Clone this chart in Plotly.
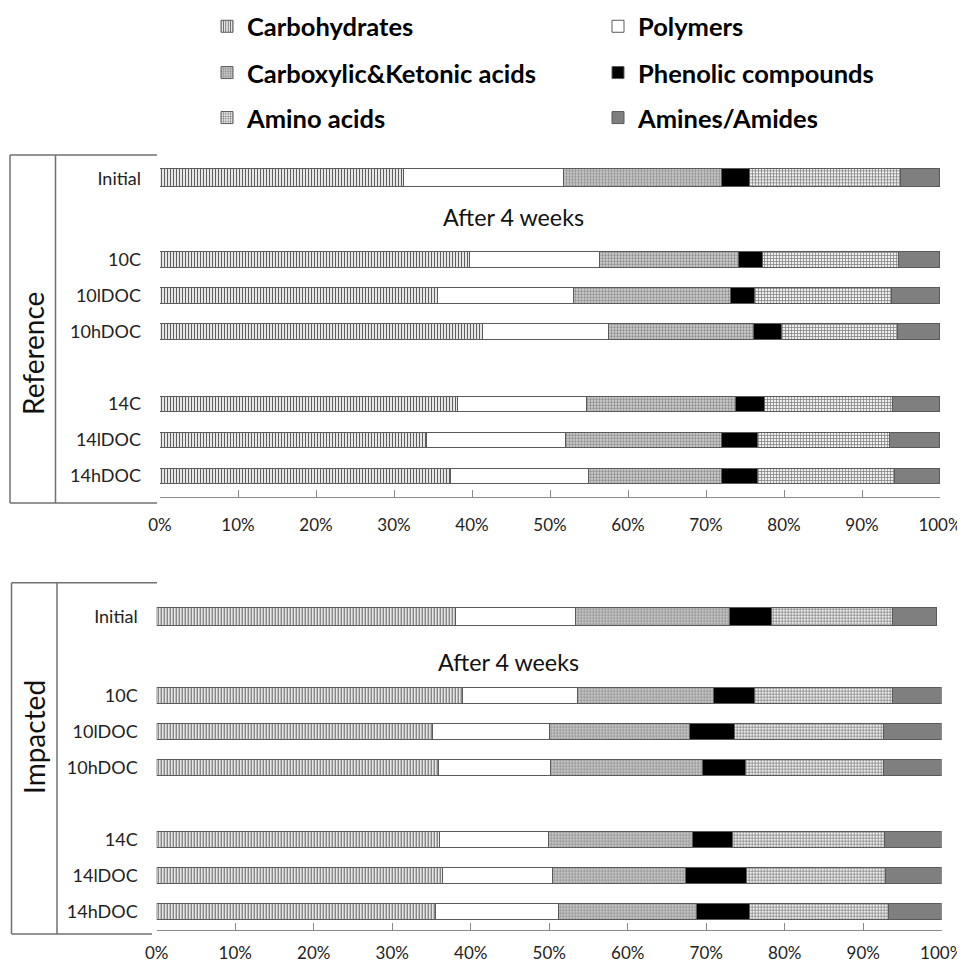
import plotly.graph_objects as go

# ---------------- data ----------------
components = ["Carbohydrates", "Polymers", "Carboxylic&Ketonic acids",
              "Phenolic compounds", "Amino acids", "Amines/Amides"]
treatments = ["10C", "10lDOC", "10hDOC", "14C", "14lDOC", "14hDOC"]
axis_order = ["10C", "10lDOC", "10hDOC", " ", "14C", "14lDOC", "14hDOC"]
initial_label = ["Initial"]
x_ticks = [0, 10, 20, 30, 40, 50, 60, 70, 80, 90, 100]
x_tick_labels = ["0%", "10%", "20%", "30%", "40%", "50%", "60%", "70%", "80%", "90%", "100%"]

# Reference soil (percent of total), order of components as above
ref_initial = [31.3, 20.5, 20.2, 3.6, 19.4, 5.0]
ref_carbohydrates = [39.7, 35.6, 41.4, 38.2, 34.2, 37.3]
ref_polymers = [16.7, 17.5, 16.1, 16.6, 17.9, 17.7]
ref_carboxylic = [17.8, 20.1, 18.6, 19.0, 19.9, 17.1]
ref_phenolic = [3.1, 3.1, 3.6, 3.8, 4.7, 4.6]
ref_amino = [17.4, 17.6, 14.9, 16.4, 16.9, 17.5]
ref_amines = [5.3, 6.1, 5.4, 6.0, 6.4, 5.8]

# Impacted soil
imp_initial = [38.1, 15.3, 19.6, 5.4, 15.4, 5.6]
imp_carbohydrates = [39.0, 35.2, 35.9, 36.0, 36.4, 35.6]
imp_polymers = [14.6, 14.9, 14.3, 13.9, 14.0, 15.6]
imp_carboxylic = [17.4, 17.8, 19.3, 18.4, 17.0, 17.6]
imp_phenolic = [5.2, 5.7, 5.5, 5.1, 7.7, 6.8]
imp_amino = [17.6, 19.0, 17.6, 19.4, 17.8, 17.6]
imp_amines = [6.2, 7.4, 7.4, 7.2, 7.1, 6.8]

ref_after = [ref_carbohydrates, ref_polymers, ref_carboxylic,
             ref_phenolic, ref_amino, ref_amines]
imp_after = [imp_carbohydrates, imp_polymers, imp_carboxylic,
             imp_phenolic, imp_amino, imp_amines]

# ---------------- styles ----------------
FONT = "Lato"
PAGE_OFFSET = 8            # default body margin of the html page
W, H = 965 - PAGE_OFFSET, 963 - PAGE_OFFSET
LINE = "#5a5a5a"

styles = [
    dict(color="white", pattern=dict(shape="|", fgcolor="#606060", bgcolor="#e6e6e6", size=3, solidity=0.35)),
    dict(color="white"),
    dict(color="#c4c4c4", pattern=dict(shape=".", fgcolor="#8c8c8c", bgcolor="#cfcfcf", size=3, solidity=0.45)),
    dict(color="black"),
    dict(color="white", pattern=dict(shape="+", fgcolor="#7a7a7a", bgcolor="#eeeeee", size=3, solidity=0.4)),
    dict(color="#7f7f7f"),
]
legend_ids = ["legend", "legend", "legend2", "legend2", "legend3", "legend3"]


def px_x(p):
    return (p - PAGE_OFFSET) / W


def px_y(p):
    return 1 - (p - PAGE_OFFSET) / H


fig = go.Figure()

panels = [
    (ref_initial, ref_after, ("x", "y"), ("x2", "y2"), True),
    (imp_initial, imp_after, ("x3", "y3"), ("x4", "y4"), False),
]

for init_vals, after_vals, (xa, ya), (xb, yb), show in panels:
    for i, comp in enumerate(components):
        st = styles[i]
        marker = dict(color=st["color"], line=dict(color=LINE, width=1))
        if "pattern" in st:
            marker["pattern"] = dict(fillmode="replace", **st["pattern"])
        fig.add_trace(go.Bar(
            x=after_vals[i], y=treatments, orientation="h", name=comp,
            marker=marker, width=0.42, xaxis=xa, yaxis=ya,
            showlegend=show, legend=legend_ids[i],
            hovertemplate="%{y}: %{x}%<extra>" + comp + "</extra>"))
        fig.add_trace(go.Bar(
            x=[init_vals[i]], y=initial_label, orientation="h", name=comp,
            marker=marker, width=0.5, xaxis=xb, yaxis=yb, showlegend=False,
            hovertemplate="Initial: %{x}%<extra>" + comp + "</extra>"))

tickfont = dict(family=FONT, size=17, color="#222")
catfont = dict(family=FONT, size=18, color="#222")

common_x = dict(range=[0, 100], tickmode="array", tickvals=x_ticks, ticktext=x_tick_labels,
                showgrid=False, zeroline=False, showline=True, linecolor="#8a8a8a",
                linewidth=1.2, ticks="inside", ticklen=7, tickcolor="#8a8a8a", tickwidth=1.2,
                tickfont=tickfont, automargin=False, fixedrange=True)
hidden_x = dict(range=[0, 100], visible=False, automargin=False, fixedrange=True)
common_y = dict(type="category", categoryorder="array", showgrid=False,
                zeroline=False, showline=False, ticks="", tickfont=catfont,
                ticklabelstandoff=18, automargin=False, fixedrange=True)

top_dom_x = [px_x(160), px_x(940)]
bot_dom_x = [px_x(156.7), px_x(941.7)]

fig.update_layout(
    template="none",
    width=W, height=H, autosize=False,
    margin=dict(l=0, r=0, t=0, b=0, pad=0, autoexpand=False),
    paper_bgcolor="white", plot_bgcolor="white",
    barmode="stack", bargap=0,
    font=dict(family=FONT, color="#222"),
    xaxis=dict(domain=top_dom_x, anchor="y", ticklabelstandoff=12, **common_x),
    yaxis=dict(domain=[px_y(497), px_y(242)], anchor="x", categoryarray=axis_order,
               range=[6.58, -0.5], **common_y),
    xaxis2=dict(domain=top_dom_x, anchor="y2", **hidden_x),
    yaxis2=dict(domain=[px_y(196.3), px_y(160.3)], anchor="x2", categoryarray=initial_label,
                range=[0.5, -0.5], **common_y),
    xaxis3=dict(domain=bot_dom_x, anchor="y3", ticklabelstandoff=7, **common_x),
    yaxis3=dict(domain=[px_y(930), px_y(677.7)], anchor="x3", categoryarray=axis_order,
                range=[6.51, -0.5], **common_y),
    xaxis4=dict(domain=bot_dom_x, anchor="y4", **hidden_x),
    yaxis4=dict(domain=[px_y(634.7), px_y(598.7)], anchor="x4", categoryarray=initial_label,
                range=[0.5, -0.5], **common_y),
)

legfont = dict(family=FONT, size=25.5, color="black", weight="bold")
for lid, row_y in [("legend", 26.7), ("legend2", 73), ("legend3", 118)]:
    fig.update_layout({lid: dict(
        orientation="h", x=px_x(207), xanchor="left", y=px_y(row_y), yanchor="middle",
        entrywidth=346, entrywidthmode="pixels", font=legfont,
        bgcolor="rgba(0,0,0,0)", borderwidth=0, traceorder="normal",
        itemclick=False, itemdoubleclick=False)})


# bracket frame lines
def line(x0, y0, x1, y1):
    fig.add_shape(type="line", xref="paper", yref="paper",
                  x0=px_x(x0), y0=px_y(y0), x1=px_x(x1), y1=px_y(y1),
                  line=dict(color="#707070", width=1.5))


line(10, 155, 157, 155)
line(10, 155, 10, 503)
line(55.5, 155, 55.5, 503)
line(10, 503, 157, 503)

line(11.5, 582.7, 157, 582.7)
line(11.5, 582.7, 11.5, 934)
line(57, 582.7, 57, 934)
line(11.5, 934, 152, 934)


def label(text, x, y, size, angle=0):
    fig.add_annotation(text=text, x=px_x(x), y=px_y(y), xref="paper", yref="paper",
                       xanchor="center", yanchor="middle", textangle=angle,
                       showarrow=False, font=dict(family=FONT, size=size, color="#111"))


label("Reference", 33, 354, 28, -90)
label("Impacted", 34, 737, 28, -90)
label("After 4 weeks", 513.5, 217, 23.3)
label("After 4 weeks", 508.5, 662, 23.3)

fig.write_html("out.html")
